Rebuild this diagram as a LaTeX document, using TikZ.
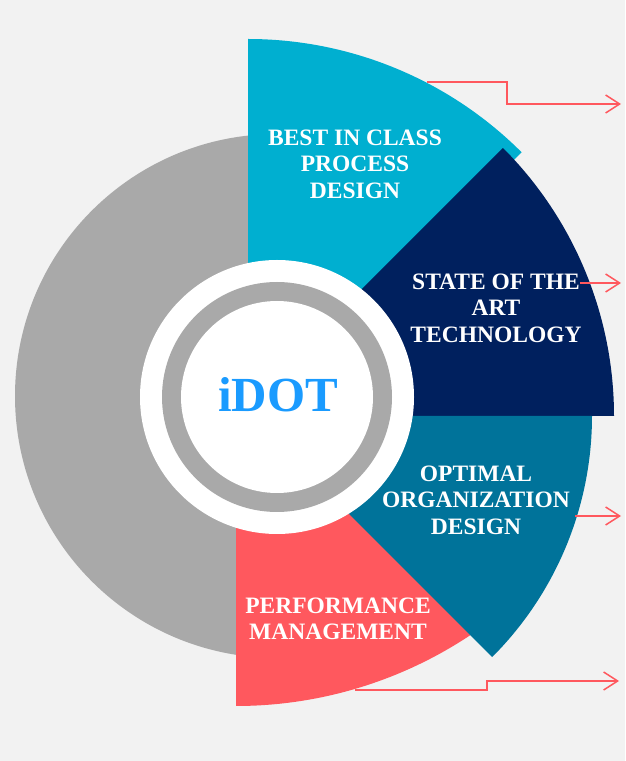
\documentclass[tikz,border=0pt]{standalone}
\usepackage{fontspec}
\setmainfont{Liberation Serif}
\usetikzlibrary{arrows.meta}
\definecolor{bgc}{HTML}{F2F2F2}
\definecolor{grayc}{HTML}{A9A9A9}
\definecolor{cyanc}{HTML}{00AFD0}
\definecolor{navyc}{HTML}{00205E}
\definecolor{tealc}{HTML}{00739A}
\definecolor{redc}{HTML}{FF585E}
\definecolor{idotc}{HTML}{1A9BFF}
\tikzset{
  label text/.style={text=white, align=center, inner sep=0pt,
    font=\bfseries\fontsize{23.5}{26.5}\selectfont},
  pointer/.style={draw=redc, line width=1.5pt,
    -{Straight Barb[length=14pt,width=18pt,line width=1.5pt]}},
}
\begin{document}
\begin{tikzpicture}[x=1pt,y=1pt]
\fill[bgc] (0,0) rectangle (625,761);
\useasboundingbox (0,0) rectangle (625,761);
% big gray disc
\fill[grayc] (277,365) circle[radius=262pt];
% wedges
\fill[redc] (236,478) -- ++(-90:423pt) arc[start angle=-90,end angle=-45,radius=423pt] -- cycle;
\fill[cyanc] (248,335) -- ++(45:387pt) arc[start angle=45,end angle=90,radius=387pt] -- cycle;
\fill[navyc] (235,345) -- ++(0:379pt) arc[start angle=0,end angle=45,radius=379pt] -- cycle;
\fill[tealc] (251,345) -- ++(-45:341pt) arc[start angle=-45,end angle=0,radius=341pt] -- cycle;
% center rings
\fill[white] (277,364) circle[radius=137pt];
\fill[grayc] (277,364) circle[radius=115pt];
\fill[white] (277,364) circle[radius=96pt];
% texts
\node[label text] (best) at (355,597) {BEST IN CLASS\\PROCESS\\DESIGN};
\node[label text] (tech) at (496,453) {STATE OF THE\\ART\\TECHNOLOGY};
\node[label text] (org) at (476,261) {OPTIMAL\\ORGANIZATION\\DESIGN};
\node[label text] (perf) at (338,142) {PERFORMANCE\\MANAGEMENT};
\node[text=idotc, inner sep=0pt, font=\bfseries\fontsize{49}{53}\selectfont] (idot) at (278,366) {iDOT};
% pointers
\coordinate (p1s) at (427,679); \coordinate (p1e) at (621,657);
\coordinate (p2s) at (580,478); \coordinate (p2e) at (621,478);
\coordinate (p3s) at (575,245); \coordinate (p3e) at (621,245);
\coordinate (p4s) at (355,71);  \coordinate (p4e) at (619,80);
\draw[pointer] (p1s) -- (507,679) -- (507,657) -- (p1e);
\draw[pointer] (p2s) -- (p2e);
\draw[pointer] (p3s) -- (p3e);
\draw[pointer] (p4s) -- (487,71) -- (487,80) -- (p4e);
\end{tikzpicture}
\end{document}
